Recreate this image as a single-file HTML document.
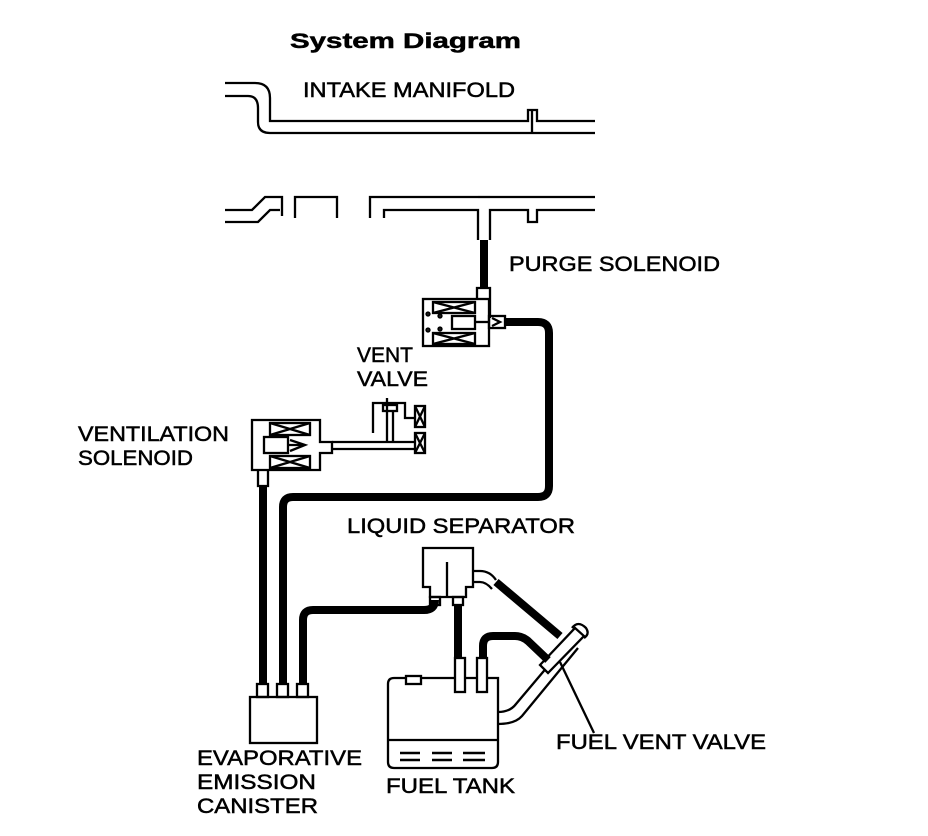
<!DOCTYPE html>
<html><head><style>
html,body{margin:0;padding:0;background:#fff;}
svg{display:block;}
text{font-family:"Liberation Sans",Arial,sans-serif;font-size:21px;fill:#000;stroke:#000;stroke-width:0.5;}
</style></head><body>
<svg width="928" height="836" viewBox="0 0 928 836" xmlns="http://www.w3.org/2000/svg">
<g fill="none" stroke="#000" stroke-width="2.3">
<path d="M225,83 H255 Q270,83 270,98 V121 H528 V110 H537 V121 H595"/>
<path d="M225,96 H248 Q258,96 258,108 V122 Q258,133 270,133 H595"/>
<line x1="532" y1="110" x2="532" y2="133"/>
<path d="M225,210 H252 L265,197 H282 V216"/>
<path d="M225,222 H258 L270,210 H280"/>
<path d="M295,218 V197 H337 V218"/>
<path d="M370,218 V197 H478"/>
<path d="M384,218 V210 H478 V240"/>
<path d="M490,240 V210 H528 V222 H537 V210 H595"/>
<path d="M490,197 H595"/>
<line x1="478" y1="197" x2="490" y2="197"/>
<rect x="423" y="299" width="66" height="47"/>
<path d="M477,299 V288 H490 V318"/>
<rect x="433" y="302" width="42" height="11"/><path d="M433,302 L475,313 M475,302 L433,313"/>
<rect x="433" y="333" width="42" height="11"/><path d="M433,333 L475,344 M475,333 L433,344"/>
<rect x="452" y="316" width="23" height="13"/>
<line x1="475" y1="322" x2="489" y2="322"/>
<rect x="489" y="316" width="16" height="12"/>
<path d="M492,318 L500,322 L492,326"/>
<circle cx="428" cy="314" r="1.5"/><circle cx="428" cy="330" r="1.5"/><circle cx="440" cy="316" r="1.5"/><circle cx="440" cy="329" r="1.5"/>
<path d="M252,420 H320 V442 H332 V453 H320 V470 H252 Z"/>
<rect x="270" y="423" width="40" height="12"/><path d="M270,423 L310,435 M310,423 L270,435"/>
<rect x="270" y="456" width="40" height="12"/><path d="M270,456 L310,468 M310,456 L270,468"/>
<rect x="264" y="437" width="24" height="16"/>
<path d="M290,440 L305,445 L290,451 M288,445 H305"/>
<path d="M258,470 V486 H268 V470"/>
<path d="M332,442 H415 M332,449 H415"/>
<path d="M373,433 V403 H405 V418 H415"/>
<line x1="387" y1="398" x2="387" y2="442"/>
<line x1="393" y1="410" x2="393" y2="442"/>
<rect x="383" y="405" width="14" height="6"/>
<rect x="415" y="406" width="10" height="21"/><path d="M415,406 L425,427 M425,406 L415,427"/>
<rect x="415" y="433" width="10" height="20"/><path d="M415,433 L425,453 M425,433 L415,453"/>
<rect x="250" y="697" width="67" height="46"/>
<rect x="257" y="684" width="11" height="13"/>
<rect x="277" y="684" width="11" height="13"/>
<rect x="297" y="684" width="11" height="13"/>
<path d="M423,548 H473 V587 H466 V597 H430 V587 H423 Z"/>
<line x1="447" y1="562" x2="447" y2="597"/>
<rect x="430" y="597" width="10" height="8"/>
<rect x="453" y="597" width="10" height="8"/>
<path d="M473,571 H480 Q490,571 496,580"/>
<path d="M473,582 H480 Q486,582 492,589"/>
<path d="M394,678 H498 V762 Q498,768 492,768 H394 Q388,768 388,762 V684 Q388,678 394,678 Z"/>
<line x1="388" y1="740" x2="498" y2="740"/>
<rect x="406" y="676" width="15" height="8" fill="#fff"/>
<rect x="455" y="658" width="10" height="34" fill="#fff"/>
<rect x="477" y="658" width="10" height="34" fill="#fff"/>
<path d="M400,753 H420 M400,760 H420 M432,753 H452 M432,760 H452 M463,753 H485 M463,760 H485" stroke-width="2.5"/>
<path d="M498,712 Q510,712 516,704 L570,640"/>
<path d="M498,724 Q515,724 522,716 L578,648"/>
<path d="M540,665 L575,628 L584,636 L548,673 Z" fill="#fff"/>
<path d="M572,628 Q578,620 586,628 Q590,634 584,638"/>
<line x1="560" y1="662" x2="594" y2="733"/>
</g>
<g fill="none" stroke="#000" stroke-width="8" stroke-linejoin="round">
<line x1="484" y1="240" x2="484" y2="288"/>
<path d="M505,322 H538 Q549,322 549,333 V486 Q549,497 538,497 H293 Q283,497 283,507 V684"/>
<line x1="263" y1="486" x2="263" y2="684"/>
<path d="M303,684 V620 Q303,610 313,610 H424 Q435,610 435,600"/>
<line x1="458" y1="605" x2="458" y2="658"/>
<path d="M483,658 V646 Q483,636 493,636 H515 Q522,636 528,641 L548,660"/>
<path d="M496,582 L560,636"/>
</g>
<text x="290" y="48" font-weight="bold" font-size="24" textLength="231" lengthAdjust="spacingAndGlyphs">System  Diagram</text>
<text x="303" y="97" textLength="212" lengthAdjust="spacingAndGlyphs">INTAKE MANIFOLD</text>
<text x="509" y="271" textLength="211" lengthAdjust="spacingAndGlyphs">PURGE SOLENOID</text>
<text x="357" y="362" textLength="56" lengthAdjust="spacingAndGlyphs">VENT</text>
<text x="357" y="386" textLength="71" lengthAdjust="spacingAndGlyphs">VALVE</text>
<text x="78" y="441" textLength="151" lengthAdjust="spacingAndGlyphs">VENTILATION</text>
<text x="78" y="465" textLength="115" lengthAdjust="spacingAndGlyphs">SOLENOID</text>
<text x="347" y="533" textLength="228" lengthAdjust="spacingAndGlyphs">LIQUID SEPARATOR</text>
<text x="197" y="765" textLength="165" lengthAdjust="spacingAndGlyphs">EVAPORATIVE</text>
<text x="197" y="789" textLength="119" lengthAdjust="spacingAndGlyphs">EMISSION</text>
<text x="197" y="813" textLength="121" lengthAdjust="spacingAndGlyphs">CANISTER</text>
<text x="386" y="793" textLength="129" lengthAdjust="spacingAndGlyphs">FUEL TANK</text>
<text x="556" y="749" textLength="210" lengthAdjust="spacingAndGlyphs">FUEL VENT VALVE</text>
</svg>
</body></html>
